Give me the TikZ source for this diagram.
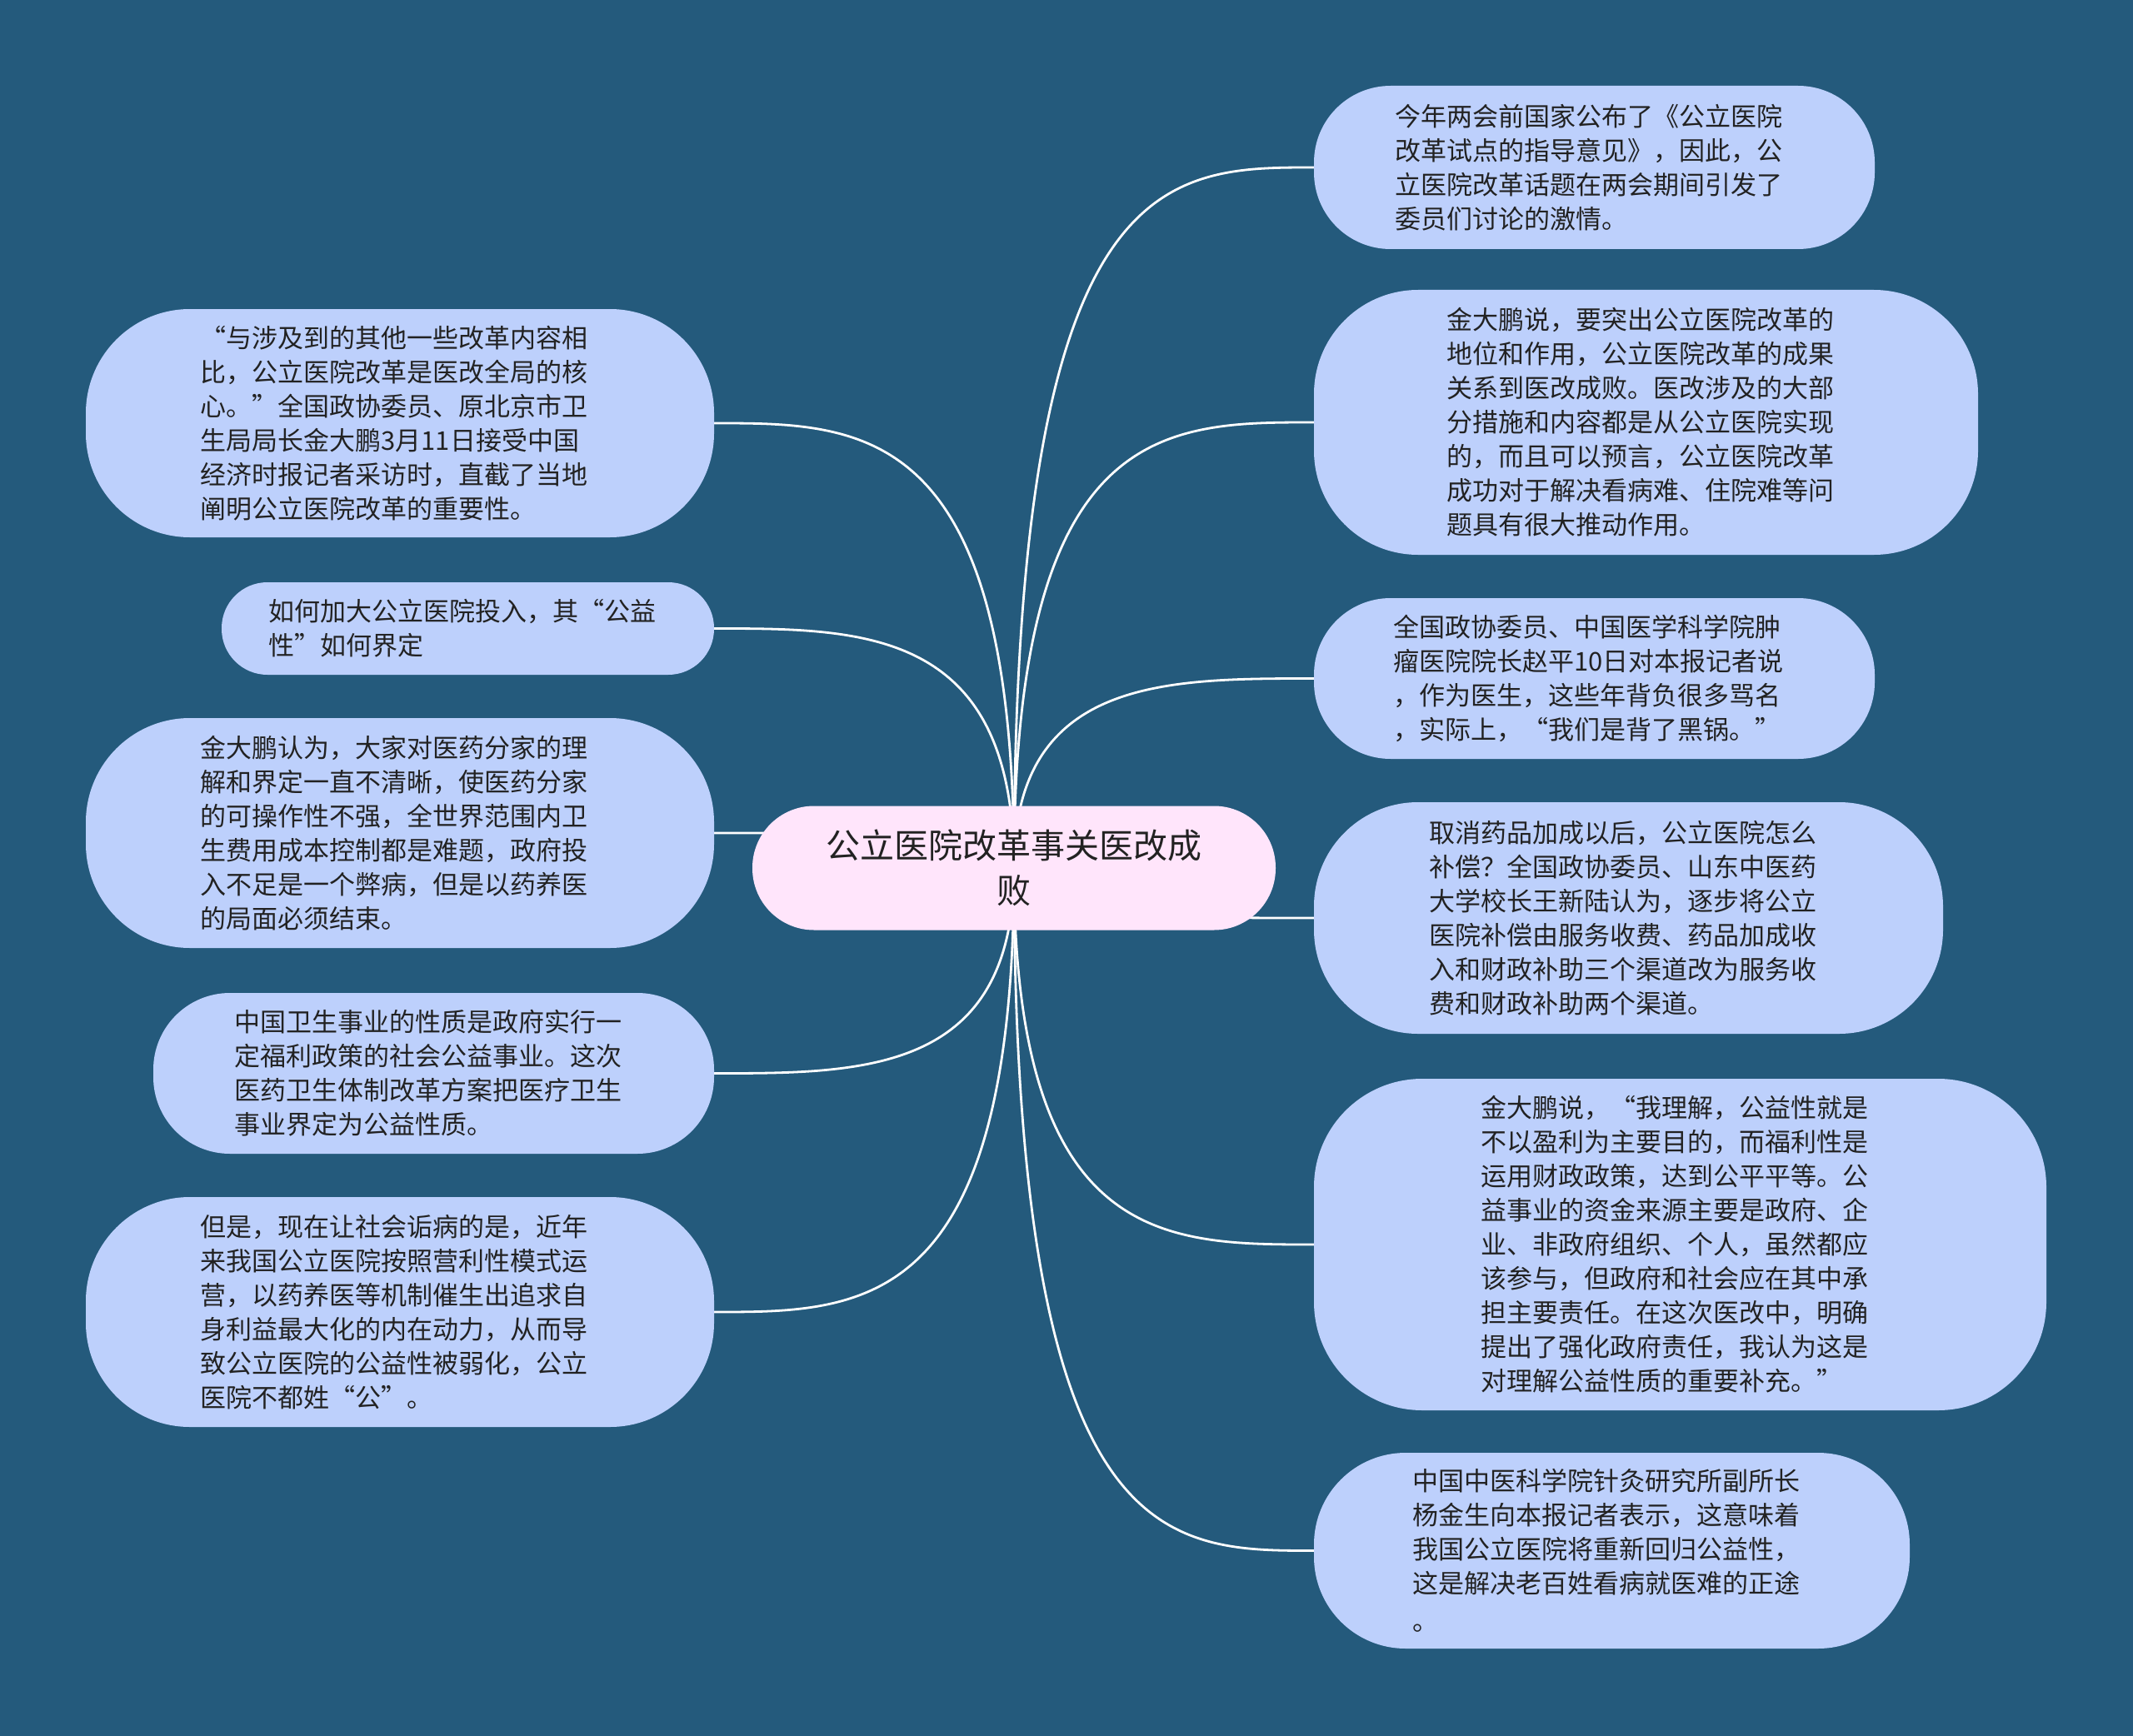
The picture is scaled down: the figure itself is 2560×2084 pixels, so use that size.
\documentclass[tikz,border=0pt]{standalone}
\usepackage{fontspec}
\setmainfont{Noto Sans CJK SC}
\usetikzlibrary{calc}
\pgfdeclarelayer{bg}
\pgfdeclarelayer{edges}
\pgfsetlayers{bg,edges,main}
\definecolor{bgblue}{HTML}{245A7C}
\definecolor{leafblue}{HTML}{BDD0FC}
\definecolor{rootpink}{HTML}{FFE5FB}
\definecolor{txt}{HTML}{222222}
% name, x, y, width, height, radius, text
\newcommand\leafnode[7]{%
  \node[leafbox, minimum width=#4pt, minimum height=#5pt, rounded corners=#6pt] (#1) at (#2,#3) {};
  \node[leaftext] (#1t) at ([xshift=-7pt]#1.center) {#7};}
\begin{document}
\begin{tikzpicture}[x=1pt,y=-1pt,
  leafbox/.style={rectangle, fill=leafblue, inner sep=0pt},
  leaftext/.style={text=txt, align=left, inner sep=0pt,
    font=\fontsize{31}{41}\selectfont},
  root/.style={rectangle, fill=rootpink, text=txt, align=center, inner sep=0pt,
    font=\fontsize{41}{54}\selectfont},
  edge/.style={draw=white, line width=2.8pt}]
\begin{pgfonlayer}{bg}
\fill[bgblue] (0,0) rectangle (2560,2084);
\end{pgfonlayer}
\useasboundingbox (0,0) rectangle (2560,2084);

\node[root, minimum width=628pt, minimum height=149pt, rounded corners=74pt] (c) at (1217,1042)
  {公立医院改革事关医改成\\败};

% right side
\leafnode{r1}{1913.5}{201}{673}{196}{92}
  {今年两会前国家公布了《公立医院\\改革试点的指导意见》，因此，公\\立医院改革话题在两会期间引发了\\委员们讨论的激情。}
\leafnode{r2}{1975.5}{507}{797}{318}{125}
  {金大鹏说，要突出公立医院改革的\\地位和作用，公立医院改革的成果\\关系到医改成败。医改涉及的大部\\分措施和内容都是从公立医院实现\\的，而且可以预言，公立医院改革\\成功对于解决看病难、住院难等问\\题具有很大推动作用。}
\leafnode{r3}{1913.5}{814.5}{673}{193}{92}
  {全国政协委员、中国医学科学院肿\\瘤医院院长赵平10日对本报记者说\\，作为医生，这些年背负很多骂名\\，实际上，“我们是背了黑锅。”}
\leafnode{r4}{1954.5}{1102}{755}{278}{125}
  {取消药品加成以后，公立医院怎么\\补偿？全国政协委员、山东中医药\\大学校长王新陆认为，逐步将公立\\医院补偿由服务收费、药品加成收\\入和财政补助三个渠道改为服务收\\费和财政补助两个渠道。}
\leafnode{r5}{2016.5}{1494}{879}{398}{130}
  {金大鹏说，“我理解，公益性就是\\不以盈利为主要目的，而福利性是\\运用财政政策，达到公平平等。公\\益事业的资金来源主要是政府、企\\业、非政府组织、个人，虽然都应\\该参与，但政府和社会应在其中承\\担主要责任。在这次医改中，明确\\提出了强化政府责任，我认为这是\\对理解公益性质的重要补充。”}
\leafnode{r6}{1934.5}{1861.5}{715}{235}{110}
  {中国中医科学院针灸研究所副所长\\杨金生向本报记者表示，这意味着\\我国公立医院将重新回归公益性，\\这是解决老百姓看病就医难的正途\\[4pt]。}

% left side
\leafnode{l1}{480}{508}{754}{274}{125}
  {“与涉及到的其他一些改革内容相\\比，公立医院改革是医改全局的核\\心。”全国政协委员、原北京市卫\\生局局长金大鹏3月11日接受中国\\经济时报记者采访时，直截了当地\\阐明公立医院改革的重要性。}
\leafnode{l2}{561.5}{754.5}{591}{111}{55}
  {如何加大公立医院投入，其“公益\\性”如何界定}
\leafnode{l3}{480}{1000}{754}{276}{125}
  {金大鹏认为，大家对医药分家的理\\解和界定一直不清晰，使医药分家\\的可操作性不强，全世界范围内卫\\生费用成本控制都是难题，政府投\\入不足是一个弊病，但是以药养医\\的局面必须结束。}
\leafnode{l4}{520.5}{1288.5}{673}{193}{92}
  {中国卫生事业的性质是政府实行一\\定福利政策的社会公益事业。这次\\医药卫生体制改革方案把医疗卫生\\事业界定为公益性质。}
\leafnode{l5}{480}{1575}{754}{276}{125}
  {但是，现在让社会诟病的是，近年\\来我国公立医院按照营利性模式运\\营，以药养医等机制催生出追求自\\身利益最大化的内在动力，从而导\\致公立医院的公益性被弱化，公立\\医院不都姓“公”。}

\begin{pgfonlayer}{edges}
\foreach \n in {r1,r2,r3,r4,r5,r6}
  \draw[edge] (c.center) .. controls (c.center |- \n.west) and ($(c.center |- \n.west)!0.5!(\n.west)$) .. (\n.west);
\foreach \n in {l1,l2,l3,l4,l5}
  \draw[edge] (c.center) .. controls (c.center |- \n.east) and ($(c.center |- \n.east)!0.5!(\n.east)$) .. (\n.east);
\end{pgfonlayer}
\end{tikzpicture}
\end{document}
